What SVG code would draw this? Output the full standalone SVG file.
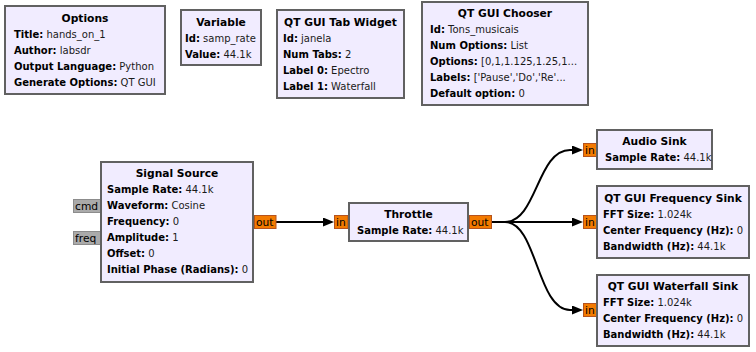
<svg xmlns="http://www.w3.org/2000/svg" width="756" height="352" viewBox="0 0 756 352">
  <style>
    text { font-family: "DejaVu Sans", "Liberation Sans", sans-serif; fill: #1a1a1a; }
    .box { fill: #F1ECFF; stroke: #616161; stroke-width: 2; }
    .ttl { font-size: 10.7px; font-weight: bold; text-anchor: middle; fill: #000; }
    .row { font-size: 10px; }
    .k { font-weight: bold; fill: #000; }
    .port { fill: #F37A00; stroke: #B5531E; stroke-width: 1; }
    .mport { fill: #AAAAAA; stroke: #8C8C8C; stroke-width: 1; }
    .plab { font-size: 10.7px; fill: #000; }
    .edge { fill: none; stroke: #000; stroke-width: 2; marker-end: url(#arrow); }
  </style>
  <defs>
    <marker id="arrow" markerUnits="userSpaceOnUse" markerWidth="11" markerHeight="9" refX="7" refY="4.5" orient="auto">
      <path d="M0,0 L11,4.5 L0,9 Z" fill="#000"/>
    </marker>
  </defs>

  <!-- connectors -->
  <g id="connectors">
    <path class="edge" d="M276,222 H330"/>
    <path class="edge" d="M492,222 H579"/>
    <path class="edge" d="M492,222 H505 C537,222 537,150 570,150 H579"/>
    <path class="edge" d="M492,222 H505 C537,222 537,310 570,310 H579"/>
  </g>

  <g id="options">
    <rect class="box" x="5" y="6" width="160" height="88"/>
    <text class="ttl" x="85" y="21.5">Options</text>
    <text class="row" x="14" y="37.5"><tspan class="k">Title:</tspan> hands_on_1</text>
    <text class="row" x="14" y="53.5"><tspan class="k">Author:</tspan> labsdr</text>
    <text class="row" x="14" y="69.5"><tspan class="k">Output Language:</tspan> Python</text>
    <text class="row" x="14" y="85.5"><tspan class="k">Generate Options:</tspan> QT GUI</text>
  </g>

  <g id="variable">
    <rect class="box" x="181" y="10" width="80" height="55"/>
    <text class="ttl" x="221" y="25.5">Variable</text>
    <text class="row" x="185" y="41.5"><tspan class="k">Id:</tspan> samp_rate</text>
    <text class="row" x="185" y="57.5"><tspan class="k">Value:</tspan> 44.1k</text>
  </g>

  <g id="tab_widget">
    <rect class="box" x="277" y="10" width="127" height="88"/>
    <text class="ttl" x="340.5" y="25.5">QT GUI Tab Widget</text>
    <text class="row" x="283" y="41.5"><tspan class="k">Id:</tspan> janela</text>
    <text class="row" x="283" y="57.5"><tspan class="k">Num Tabs:</tspan> 2</text>
    <text class="row" x="283" y="73.5"><tspan class="k">Label 0:</tspan> Epectro</text>
    <text class="row" x="283" y="89.5"><tspan class="k">Label 1:</tspan> Waterfall</text>
  </g>

  <g id="chooser">
    <rect class="box" x="422" y="2" width="166" height="103"/>
    <text class="ttl" x="505" y="17">QT GUI Chooser</text>
    <text class="row" x="430" y="33"><tspan class="k">Id:</tspan> Tons_musicais</text>
    <text class="row" x="430" y="49"><tspan class="k">Num Options:</tspan> List</text>
    <text class="row" x="430" y="65"><tspan class="k">Options:</tspan> [0,1,1.125,1.25,1...</text>
    <text class="row" x="430" y="81"><tspan class="k">Labels:</tspan> ['Pause','Do','Re'...</text>
    <text class="row" x="430" y="97"><tspan class="k">Default option:</tspan> 0</text>
  </g>

  <g id="signal_source">
    <rect class="mport" x="73.5" y="199.5" width="27" height="13"/>
    <text class="plab" x="75" y="210">cmd</text>
    <rect class="mport" x="73.5" y="231.5" width="27" height="13"/>
    <text class="plab" x="75" y="242">freq</text>
    <rect class="box" x="101" y="162" width="152" height="120"/>
    <text class="ttl" x="177" y="177">Signal Source</text>
    <text class="row" x="107" y="193"><tspan class="k">Sample Rate:</tspan> 44.1k</text>
    <text class="row" x="107" y="209"><tspan class="k">Waveform:</tspan> Cosine</text>
    <text class="row" x="107" y="225"><tspan class="k">Frequency:</tspan> 0</text>
    <text class="row" x="107" y="241"><tspan class="k">Amplitude:</tspan> 1</text>
    <text class="row" x="107" y="257"><tspan class="k">Offset:</tspan> 0</text>
    <text class="row" x="107" y="273"><tspan class="k">Initial Phase (Radians):</tspan> 0</text>
    <rect class="port" x="254.5" y="215.5" width="21.5" height="13"/>
    <text class="plab" x="256" y="226">out</text>
  </g>

  <g id="throttle">
    <rect class="port" x="334.5" y="215.5" width="13.5" height="13"/>
    <text class="plab" x="336" y="226">in</text>
    <rect class="box" x="349" y="203" width="119" height="38"/>
    <text class="ttl" x="408.5" y="218">Throttle</text>
    <text class="row" x="357" y="234"><tspan class="k">Sample Rate:</tspan> 44.1k</text>
    <rect class="port" x="469.5" y="215.5" width="22" height="13"/>
    <text class="plab" x="471" y="226">out</text>
  </g>

  <g id="audio_sink">
    <rect class="port" x="583.5" y="143.5" width="13" height="13"/>
    <text class="plab" x="585" y="154">in</text>
    <rect class="box" x="597" y="130" width="115" height="39"/>
    <text class="ttl" x="654.5" y="145">Audio Sink</text>
    <text class="row" x="605" y="161"><tspan class="k">Sample Rate:</tspan> 44.1k</text>
  </g>

  <g id="freq_sink">
    <rect class="port" x="583.5" y="215.5" width="13" height="13"/>
    <text class="plab" x="585" y="226">in</text>
    <rect class="box" x="597" y="186" width="152" height="72"/>
    <text class="ttl" x="673" y="201.5">QT GUI Frequency Sink</text>
    <text class="row" x="603" y="217.5"><tspan class="k">FFT Size:</tspan> 1.024k</text>
    <text class="row" x="603" y="233.5"><tspan class="k">Center Frequency (Hz):</tspan> 0</text>
    <text class="row" x="603" y="249.5"><tspan class="k">Bandwidth (Hz):</tspan> 44.1k</text>
  </g>

  <g id="waterfall_sink">
    <rect class="port" x="583.5" y="303.5" width="13" height="13"/>
    <text class="plab" x="585" y="314">in</text>
    <rect class="box" x="597" y="275" width="152" height="71"/>
    <text class="ttl" x="673" y="290">QT GUI Waterfall Sink</text>
    <text class="row" x="603" y="306"><tspan class="k">FFT Size:</tspan> 1.024k</text>
    <text class="row" x="603" y="322"><tspan class="k">Center Frequency (Hz):</tspan> 0</text>
    <text class="row" x="603" y="338"><tspan class="k">Bandwidth (Hz):</tspan> 44.1k</text>
  </g>
</svg>
